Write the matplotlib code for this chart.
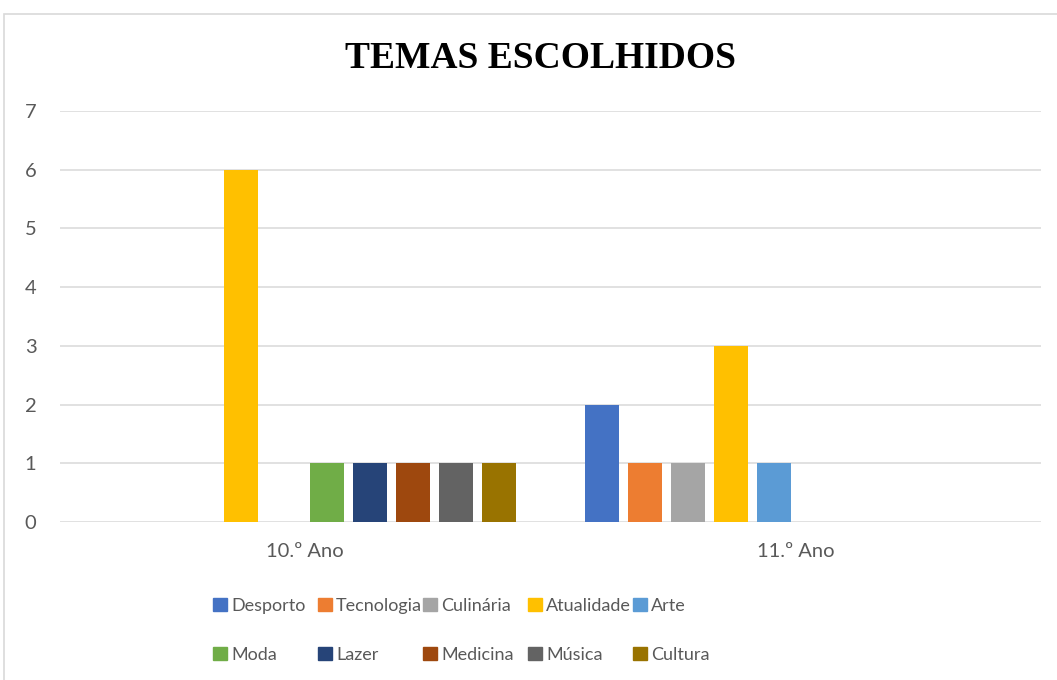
import matplotlib.pyplot as plt
from matplotlib.patches import Patch, Rectangle
import numpy as np

# data
groups = ['10.º Ano', '11.º Ano']
temas = ['Desporto', 'Tecnologia', 'Culinária', 'Atualidade', 'Arte',
         'Moda', 'Lazer', 'Medicina', 'Música', 'Cultura']
ano10 = [0, 0, 0, 6, 0, 1, 1, 1, 1, 1]
ano11 = [2, 1, 1, 3, 1, 0, 0, 0, 0, 0]
cores = ['#4472C4', '#ED7D31', '#A5A5A5', '#FFC000', '#5B9BD5',
         '#70AD47', '#264478', '#9E480E', '#636363', '#997300']

plt.rcParams['font.family'] = ['Lato', 'DejaVu Sans']
txt = '#595959'

fig = plt.figure(figsize=(10.57, 6.8), dpi=100)
ax = fig.add_axes([60 / 1057, 1 - 522 / 680, 981 / 1057, 411 / 680])

# outer chart border
fig.patches.append(Rectangle((4 / 1057, -0.1), 1.2, (680 - 14) / 680 + 0.1,
                             transform=fig.transFigure, fill=False,
                             edgecolor='#D9D9D9', linewidth=1.2))

slot = 43 / 490
width = 34 / 490
x = np.arange(len(groups))
for i, (tema, cor) in enumerate(zip(temas, cores)):
    offs = (i - 4.5) * slot
    ax.bar(x + offs, [ano10[i], ano11[i]], width=width, color=cor,
           label=tema, zorder=3)

ax.set_xlim(-0.5, 1.5)
ax.set_ylim(0, 7)
ax.set_yticks(range(0, 8))
ax.set_xticks(x)
ax.set_xticklabels(groups)
ax.tick_params(axis='both', length=0, labelsize=14.5, colors=txt)
ax.tick_params(axis='y', pad=17)
ax.tick_params(axis='x', pad=15)
ax.grid(axis='y', color='#D9D9D9', linewidth=1.1, zorder=0)
for s in ax.spines.values():
    s.set_visible(False)

fig.text(0.511, 1 - 58 / 680, 'TEMAS ESCOLHIDOS', ha='center', va='center',
         fontsize=27, fontweight='bold', family='Liberation Serif')

# legend: 5 equal-width columns, two rows
handles = [Patch(color=c) for c in cores]
for col in range(5):
    idx = [col, col + 5]
    fig.legend([handles[j] for j in idx], [temas[j] for j in idx],
               loc='upper left',
               bbox_to_anchor=((213 + col * 105) / 1057, 1 - 598 / 680),
               frameon=False, fontsize=13, labelcolor=txt,
               handlelength=0.75, handleheight=0.75, handletextpad=0.25,
               labelspacing=1.8, borderaxespad=0, borderpad=0)

fig.savefig('out.png', dpi=100)
